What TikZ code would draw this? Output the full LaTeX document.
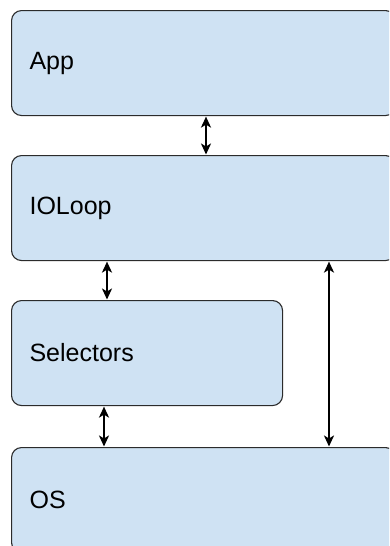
\documentclass[tikz,border=0pt]{standalone}
\usepackage{fontspec}
\setmainfont{Liberation Sans}
\usetikzlibrary{arrows.meta}
\definecolor{boxfill}{HTML}{CFE2F3}
\definecolor{boxline}{HTML}{2B2B2B}
\tikzset{
  layer/.style={draw=boxline, fill=boxfill, line width=1.1pt, rounded corners=10pt,
    anchor=north west, inner xsep=18pt, inner ysep=0pt, align=left,
    minimum height=105pt, font=\fontsize{25}{28}\selectfont},
  tiphead/.tip={Stealth[length=11pt,width=10pt,inset=3pt]},
  link/.style={line width=2pt, tiphead-tiphead, shorten <=0.5pt, shorten >=0.5pt}
}
\begin{document}
\begin{tikzpicture}[x=1pt,y=-1pt]
\useasboundingbox (0,0) rectangle (389,546);
\clip (0,0) rectangle (389,546);
\node[layer, text width=348pt] (app) at (11,10) {App};
\node[layer, text width=348pt] (io) at (11,155) {IOLoop};
\node[layer, text width=235pt] (sel) at (11,300) {Selectors};
\node[layer, text width=348pt] (os) at (11,447) {OS};
\coordinate (xa) at (206,0);
\coordinate (xb) at (107,0);
\coordinate (xc) at (104,0);
\coordinate (xd) at (329,0);
\draw[link] (xa |- app.south) -- (xa |- io.north);
\draw[link] (xb |- io.south) -- (xb |- sel.north);
\draw[link] (xc |- sel.south) -- (xc |- os.north);
\draw[link] (xd |- io.south) -- (xd |- os.north);
\end{tikzpicture}
\end{document}
